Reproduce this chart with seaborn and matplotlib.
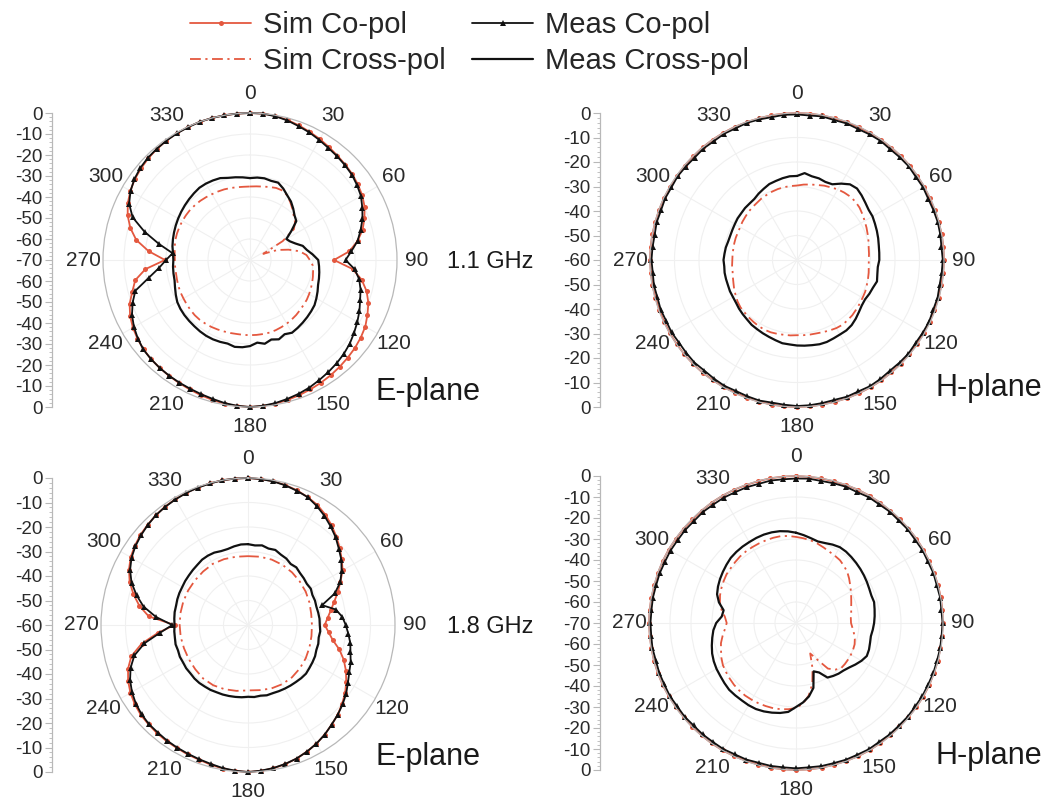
import numpy as np
import pandas as pd
import matplotlib
matplotlib.use("Agg")
import matplotlib.pyplot as plt
import seaborn as sns
from matplotlib.lines import Line2D
from matplotlib.ticker import FuncFormatter, MultipleLocator

sns.set_theme(style="white")
plt.rcParams["font.family"] = ["Liberation Sans", "DejaVu Sans"]

# ---------------------------------------------------------------- data (dB)
ANG5 = np.arange(0, 360, 5)
ANG10 = np.arange(0, 360, 10)
THETA_LABELS = [str(a) for a in range(0, 360, 30)]
LEGEND_LABELS = ["Sim Co-pol", "Sim Cross-pol", "Meas Co-pol", "Meas Cross-pol"]
FREQ_LABELS = ["1.1 GHz", "1.8 GHz"]
PLANE_LABELS = ["E-plane", "H-plane"]

# 1.1 GHz, E-plane
E11_SIM_CO = [0, 0, -0.3, -1, -1.8, -2.7, -3.5, -4.4, -5.2, -5.8, -6.4, -7.3,
              -8.3, -9.8, -12, -14.5, -18, -22.5, -30, -21, -16, -12.5, -10, -8.3,
              -6.6, -5.6, -4.8, -4.2, -3.6, -3.0, -2.5, -2, -1.5, -1, -0.5, -0.2,
              0, -0.2, -0.5, -1, -1.5, -2, -2.4, -2.7, -3, -3.3, -3.8, -4.6,
              -5.6, -7, -9, -12, -14.5, -20, -29.5, -21.5, -15, -11, -8, -5.8,
              -4.2, -3, -2.2, -1.5, -1, -0.6, -0.3, -0.1, 0, 0, 0, 0]
E11_MEAS_CO = [0, 0, -0.5, -1.2, -2.2, -3, -4, -4.9, -5.5, -6.1, -6.7, -7.8,
               -9, -11, -13, -15.5, -18, -21.5, -24.5, -20, -17.2, -15.5, -14.2, -12.5,
               -11, -9.5, -8, -6.8, -5.8, -4.9, -4, -3, -2.2, -1.5, -0.8, -0.3,
               0, -0.3, -0.8, -1.5, -2, -2.4, -2.6, -2.8, -3, -3.3, -3.7, -4.8,
               -6.2, -8, -10.5, -13.5, -21, -26.5, -30, -33, -26, -18, -10.5, -6.5,
               -4.3, -2.8, -1.8, -1.2, -0.9, -0.6, -0.4, -0.2, 0, 0, 0, 0]
E11_SIM_X = [-35, -34.8, -34.5, -34, -33.5, -33.5, -34.5, -36.5, -38.5, -40.5, -42, -44.5,
             -52, -63, -56, -51, -46, -43, -41.5, -40, -39.5, -39, -38.5, -38,
             -37.5, -37, -36.7, -36.3, -35.8, -35.4, -35, -34.7, -34.4, -34.2, -34.2, -34.2,
             -34.2, -34.2, -34.2, -34, -33.8, -33.5, -33.2, -33, -32.8, -32.8, -33, -33.2,
             -33.4, -33.5, -33.7, -34, -34.2, -34.2, -34.2, -34, -33.6, -33.2, -33, -32.9,
             -32.8, -32.8, -32.8, -33, -33.2, -33.5, -33.8, -34, -34.2, -34.5, -34.8, -35]
E11_MEAS_X = [-31, -30.6, -30.5, -31, -30.8, -32.5, -34.5, -36, -38, -40, -41.2, -46,
              -50, -49, -47, -44, -42.5, -40, -37.5, -37, -36.5, -36, -35.5, -34.5,
              -33.5, -32.5, -32, -31.5, -31, -30.5, -30, -31, -29.8, -30.8, -29.5, -30.5,
              -29, -28.3, -28, -28.8, -28.5, -28.3, -28.3, -28.5, -28.8, -29, -29.2, -29.5,
              -30, -31, -32, -32.8, -33, -33.2, -33.5, -33.2, -32.5, -32, -31.5, -31,
              -30.5, -30, -29.5, -29, -28.5, -28, -28, -28.2, -28.5, -29.5, -30, -30.5]

# 1.1 GHz, H-plane
H11_SIM_CO = [0, 0, -0.1, -0.1, -0.2, -0.2, -0.2, -0.1, -0.1, 0, 0, -0.1,
              -0.1, -0.2, -0.2, -0.1, 0, 0, 0, -0.1, -0.2, -0.2, -0.3, -0.3,
              -0.3, -0.2, -0.2, -0.1, -0.1, 0, 0, 0, 0, -0.1, -0.1, 0,
              0, 0, -0.1, -0.1, -0.2, -0.2, -0.1, -0.1, 0, 0, 0, -0.1,
              -0.1, -0.2, -0.2, -0.2, -0.1, -0.1, 0, 0, 0, -0.1, -0.1, -0.1,
              -0.2, -0.2, -0.1, -0.1, 0, 0, 0, 0, -0.1, -0.1, 0, 0]
H11_MEAS_CO = [-0.6, -0.8, -0.5, -0.9, -0.7, -1.0, -0.8, -0.6, -0.9, -0.7, -0.5, -0.8,
               -0.6, -0.9, -0.7, -0.5, -0.6, -0.8, -0.5, -0.7, -0.9, -0.6, -0.8, -0.5,
               -0.7, -0.9, -0.6, -0.8, -1.0, -0.7, -0.5, -0.8, -0.6, -0.9, -0.7, -0.5,
               -0.4, -0.7, -0.9, -0.6, -0.8, -1.0, -0.7, -0.9, -1.1, -0.8, -1.0, -1.2,
               -0.9, -1.1, -0.8, -1.0, -0.7, -0.9, -0.6, -0.8, -1.0, -0.7, -0.9, -0.6,
               -0.8, -0.5, -0.7, -0.9, -0.6, -0.8, -0.5, -0.7, -0.4, -0.6, -0.8, -0.5]
H11_SIM_X = [-29.6, -29.1, -28.7, -28.3, -27.7, -27.3, -26.7, -26.4, -26.2, -26.3, -26.7, -27.4,
             -28.1, -28.7, -29.3, -29.8, -30.3, -30.5, -30.7, -30.6, -30.3, -30, -29.7, -29.3,
             -29.1, -28.8, -28.5, -28.1, -27.9, -27.7, -27.9, -28.3, -28.7, -29, -29.1, -29.2,
             -29.3, -29.1, -29, -28.8, -28.6, -28.6, -28.8, -29.1, -29.4, -29.7, -29.9, -30.4,
             -31.1, -31.7, -32.4, -32.9, -33.3, -33.4, -33.6, -33.6, -33.6, -33.5, -33.4, -33.4,
             -33.2, -32.8, -32.5, -32.1, -31.8, -31.5, -31, -30.7, -30.3, -30, -29.8, -29.7]
H11_MEAS_X = [-25.7, -24.4, -25.3, -25.5, -26.1, -25.9, -24, -22.3, -21.9, -22.7, -23.6, -24.3,
              -24.4, -24.9, -25.3, -25.7, -26.1, -26.3, -26.4, -26.9, -26.7, -26.2, -27, -27.4,
              -27.9, -27.7, -27, -26.1, -25.3, -24.9, -24.9, -24.7, -24.4, -24.4, -24.7, -24.9,
              -25.1, -25.4, -25.5, -26.1, -26.6, -27, -27.4, -27.7, -28.3, -28.7, -29.1, -29.6,
              -29.8, -29.8, -30, -30, -30, -30.2, -30, -30.3, -30.5, -30.9, -31, -30.9,
              -30.7, -30.4, -30.3, -30, -29.9, -29.6, -28.7, -27.9, -27, -26.6, -26.1, -25.7]

# 1.8 GHz, E-plane
E18_SIM_CO = [0, -0.2, -0.4, -0.9, -1.5, -2.4, -3.4, -5, -6.9, -9, -11.1, -13.3,
              -15.4, -18.4, -21, -23.6, -25.7, -27.4, -28.7, -27, -24.9, -21.4, -18.4, -15.9,
              -13.7, -11.6, -9.9, -8.2, -6.9, -5.4, -4.1, -3, -2, -1.2, -0.6, -0.2,
              0, -0.2, -0.5, -1, -1.5, -1.7, -2, -2.1, -2.3, -2.6, -2.9, -3.6,
              -4.6, -6, -7.9, -10.7, -15.9, -23.1, -30, -19.3, -15, -11.6, -8.6, -6.4,
              -4.7, -3.6, -2.7, -2.1, -1.5, -1, -0.7, -0.4, -0.3, -0.1, 0, 0]
E18_MEAS_CO = [0, -0.2, -0.5, -1, -1.7, -2.4, -3.9, -5.6, -7.5, -9.4, -11.6, -13.5,
               -15.9, -18.4, -22.3, -28.7, -23.6, -21.4, -20.1, -18.9, -17.6, -16.7, -15.4, -14.4,
               -12.9, -11.1, -9.6, -8.2, -6.9, -5.4, -4.1, -3, -2, -1.3, -0.7, -0.3,
               0, -0.3, -0.7, -1.3, -1.7, -2, -2.2, -2.4, -2.7, -2.8, -3.3, -4.1,
               -5.3, -6.9, -9, -12, -17.1, -24, -29.1, -22.3, -16.7, -12.9, -9.4, -6.9,
               -5.1, -3.9, -3, -2.2, -1.5, -1.1, -0.8, -0.5, -0.3, -0.2, 0, 0]
E18_SIM_X = [-31.9, -31.7, -31.6, -31.7, -32, -32.4, -32.8, -33.3, -33.8, -33.9, -33.7, -33.3,
             -32.8, -32.4, -32.1, -32.1, -32.4, -33, -33.3, -32.7, -32.1, -31.6, -31.5, -31.9,
             -32.1, -32.2, -32.1, -32.1, -32, -31.9, -31.8, -31.7, -31.5, -31.2, -31.4, -31.7]
E18_MEAS_X = [-27, -27.4, -27, -27.7, -27.4, -28.3, -28.7, -29.6, -29.3, -30, -30.3, -30.7,
              -30.4, -31, -30.9, -31.1, -30.9, -30.7, -30.7, -30.4, -30.7, -30.3, -30.3, -29.8,
              -29.6, -29.4, -29.1, -29.3, -29.6, -29.8, -30, -30.2, -30.4, -30.3, -30.7, -30.5,
              -30.7, -30.4, -30.2, -30, -29.8, -29.7, -29.4, -29.3, -29.1, -29.1, -29.3, -29.2,
              -29.4, -29.3, -29.6, -29.4, -29.7, -29.8, -30, -29.8, -29.6, -29.6, -29.3, -29.1,
              -29, -28.7, -28.5, -28.2, -27.9, -27.4, -27.3, -27.4, -27.9, -27.9, -27.4, -27]

# 1.8 GHz, H-plane
H18_SIM_CO = [0, -0.1, -0.1, -0.2, -0.1, 0, 0, -0.1, -0.2, -0.2, -0.1, 0,
              0, -0.1, -0.1, 0, 0, 0, -0.1, -0.2, -0.2, -0.1, -0.1, 0,
              0, -0.1, -0.2, -0.3, -0.2, -0.1, 0, 0, -0.1, -0.1, 0, 0,
              0, 0, -0.1, -0.2, -0.2, -0.1, 0, 0, -0.1, -0.1, -0.2, -0.2,
              -0.1, 0, 0, 0, -0.1, -0.1, 0, 0, -0.1, -0.2, -0.1, 0,
              0, -0.1, -0.1, -0.2, -0.1, 0, 0, 0, -0.1, -0.1, 0, 0]
H18_MEAS_CO = [-1.2, -1.0, -1.3, -1.1, -0.9, -1.2, -0.8, -1.0, -0.7, -0.9, -0.6, -0.8,
               -0.5, -0.7, -0.4, -0.6, -0.3, -0.5, -0.2, -0.4, -0.3, -0.5, -0.4, -0.6,
               -0.5, -0.7, -0.6, -0.8, -0.7, -0.9, -0.6, -0.8, -0.7, -0.9, -0.8, -1.0,
               -0.8, -1.0, -0.9, -1.1, -0.8, -1.0, -0.7, -0.9, -0.8, -1.0, -0.7, -0.9,
               -0.6, -0.8, -0.7, -0.9, -0.6, -0.8, -0.7, -0.9, -0.8, -1.0, -0.9, -1.1,
               -1.0, -1.2, -1.1, -1.3, -1.0, -1.2, -1.1, -1.3, -1.2, -1.4, -1.1, -1.3]
H18_SIM_X = [-29, -29.5, -30, -30.8, -31.7, -32.5, -33, -33.5, -34.5, -35.5, -37, -38.5,
             -39.8, -41, -42, -42.8, -43.3, -43.8, -43.8, -43, -42, -41, -40.3, -40,
             -39.8, -39.7, -39.6, -39.6, -41, -43.5, -50, -54, -47, -40, -35, -31.5,
             -29.5, -28.8, -28.3, -28, -27.9, -27.8, -27.8, -27.8, -28, -28.3, -28.8, -29.3,
             -29.8, -30.8, -32, -33, -34.5, -36, -37, -36, -34, -32.5, -31.5, -30.8,
             -30.2, -29.6, -29.4, -29, -28.6, -28.4, -28.3, -28.2, -28.1, -28, -28, -28.4]
H18_MEAS_X = [-27, -28, -29, -29.8, -29.5, -28.8, -28.3, -28.5, -29, -29.5, -30, -30.5,
              -31, -31.5, -31.8, -31.5, -32, -32.4, -32.8, -33.3, -33.8, -33.5, -33, -32.8,
              -34, -35.5, -37, -38, -38.5, -39.2, -40, -44, -45.5, -38, -34.5, -32,
              -30, -27.5, -26.5, -25.8, -25.2, -24.8, -24.8, -25, -25, -25, -25.5, -26,
              -26.3, -26.8, -27.5, -28.5, -29.5, -30.5, -32, -34.5, -35, -32, -30, -29,
              -28.2, -27.5, -26.8, -26.1, -25.8, -25.6, -25.5, -25.3, -25.2, -25.3, -25.6, -26.2]

# ------------------------------------------------------------------ styles
RED = "#E4583F"
BLACK = "#111111"
GRID = "#f0f0f0"
RING = "#b8b8b8"
W, H = 1041, 799

panels = [
    dict(cx=250, cy=260, axis_x=52, floor=-70, plane=0,
         series=(E11_SIM_CO, E11_SIM_X, E11_MEAS_CO, E11_MEAS_X)),
    dict(cx=797, cy=260, axis_x=600, floor=-60, plane=1,
         series=(H11_SIM_CO, H11_SIM_X, H11_MEAS_CO, H11_MEAS_X)),
    dict(cx=248, cy=625, axis_x=52, floor=-60, plane=0,
         series=(E18_SIM_CO, E18_SIM_X, E18_MEAS_CO, E18_MEAS_X)),
    dict(cx=796, cy=623, axis_x=600, floor=-70, plane=1,
         series=(H18_SIM_CO, H18_SIM_X, H18_MEAS_CO, H18_MEAS_X)),
]
RADIUS = 147

styles = [
    dict(color=RED, lw=1.3, marker="o", ms=3.6, mew=0, linestyle="-"),
    dict(color=RED, lw=1.3, linestyle=(0, (6, 2.5, 1.2, 2.5))),
    dict(color=BLACK, lw=1.3, marker="^", ms=4.8, mew=0, linestyle="-"),
    dict(color=BLACK, lw=1.6, linestyle="-"),
]

fig = plt.figure(figsize=(W / 100, H / 100), dpi=100)


def closed_frame(values):
    vals = np.asarray(values, dtype=float)
    ang = ANG5 if len(vals) == len(ANG5) else ANG10
    theta = np.deg2rad(np.r_[ang, 360])
    return pd.DataFrame({"theta": theta, "dB": np.r_[vals, vals[0]]})


for p in panels:
    cx, cy, floor = p["cx"], p["cy"], p["floor"]
    rect = [(cx - RADIUS) / W, 1 - (cy + RADIUS) / H, 2 * RADIUS / W, 2 * RADIUS / H]
    ax = fig.add_axes(rect, projection="polar")
    ax.set_facecolor("none")

    for vals, st in zip(p["series"], styles):
        sns.lineplot(data=closed_frame(vals), x="theta", y="dB", sort=False,
                     estimator=None, ax=ax, clip_on=False, **st)

    ax.set_xlabel("")
    ax.set_ylabel("")
    ax.set_theta_zero_location("N")
    ax.set_theta_direction(-1)
    ax.set_thetalim(0, 2 * np.pi)
    ax.set_rlim(floor, 0)
    ax.set_rticks(np.arange(floor + 10, 0, 10))
    ax.set_yticklabels([])
    ax.set_thetagrids(np.arange(0, 360, 30), labels=THETA_LABELS, fontsize=15,
                      color="#2a2a2a")
    ax.tick_params(axis="x", pad=1)
    ax.grid(True, color=GRID, lw=0.8)
    ax.spines["polar"].set_color(RING)
    ax.spines["polar"].set_linewidth(0.9)

    # linear dB scale drawn beside each pattern
    span = -floor
    lax = fig.add_axes([p["axis_x"] / W, 1 - (cy + RADIUS) / H, 0.0005, 2 * RADIUS / H])
    lax.set_ylim(-span, span)
    lax.yaxis.set_major_locator(MultipleLocator(10))
    lax.yaxis.set_minor_locator(MultipleLocator(2))
    lax.yaxis.set_major_formatter(FuncFormatter(lambda v, _, s=span: f"{int(round(abs(v) - s))}"))
    lax.tick_params(axis="y", which="major", length=5, width=0.8, color=RING,
                    labelsize=13.5, labelcolor="#2a2a2a", pad=2, left=True)
    lax.tick_params(axis="y", which="minor", length=2.5, width=0.6, color=RING, left=True)
    lax.set_xticks([])
    for side in ("top", "right", "bottom"):
        lax.spines[side].set_visible(False)
    lax.spines["left"].set_color(RING)
    lax.spines["left"].set_linewidth(0.9)
    lax.patch.set_visible(False)

# frequency and plane annotations
for label, y in zip(FREQ_LABELS, (262, 627)):
    fig.text(447 / W, 1 - y / H, label, ha="left", va="center", fontsize=17, color="#1a1a1a")
for (x, y, k) in ((376, 392, 0), (936, 388, 1), (376, 757, 0), (936, 756, 1)):
    fig.text(x / W, 1 - y / H, PLANE_LABELS[k], ha="left", va="center", fontsize=22,
             color="#1a1a1a")

handles = [Line2D([], [], **st) for st in styles]
fig.legend(handles, LEGEND_LABELS, ncol=2, loc="upper left",
           bbox_to_anchor=(190 / W, 1 - 11 / H), frameon=False, fontsize=21,
           handlelength=2.1, handletextpad=0.4, columnspacing=0.9,
           labelspacing=0.28, borderpad=0, borderaxespad=0)

fig.savefig("out.png", dpi=100, facecolor="white")
